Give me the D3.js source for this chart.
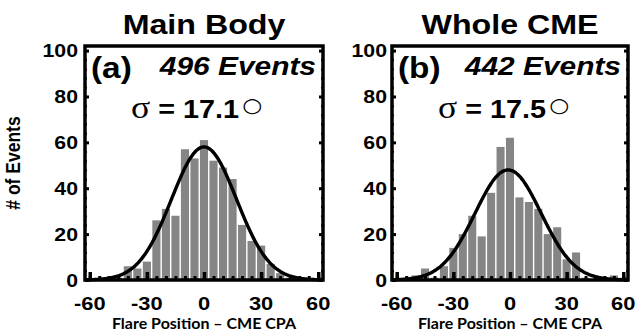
<!DOCTYPE html>
<html>
<head>
<meta charset="utf-8">
<script src="https://cdn.jsdelivr.net/npm/d3@7"></script>
<style>
  body { margin: 0; background: #fff; }
  svg { display: block; }
  .tick line { stroke: #000; }
  .domain { display: none; }
  .lbl { font-family: "Liberation Sans", Arial, sans-serif; font-weight: bold; fill: #000; }
</style>
</head>
<body>
<div id="chart"></div>
<script>

// histogram bins (degrees), 5 degree wide
var binCenters = [-60, -55, -50, -45, -40, -35, -30, -25, -20, -15, -10, -5, 0,
                  5, 10, 15, 20, 25, 30, 35, 40, 45, 50, 55, 60];

// counts
var mainBodyCounts = [0, 0, 0, 1, 6, 5, 8, 26, 31, 28, 57, 53, 61,
                      52, 49, 44, 24, 17, 15, 7, 3, 1, 0, 0, 0];
var wholeCmeCounts = [0, 0, 2, 5, 1, 6, 14, 20, 28, 19, 38, 58, 62,
                      36, 34, 31, 20, 23, 9, 12, 1, 0, 0, 2, 1];

var xTicks = [-60, -30, 0, 30, 60];
var xMinorTicks = binCenters;
var yTicks = [0, 20, 40, 60, 80, 100];
var yMinorTicks = d3.range(0, 101, 4);

var panelTitles = ["Main Body", "Whole CME"];
var panelLetters = ["(a)", "(b)"];
var eventLabels = ["496 Events", "442 Events"];
var sigmaLabels = ["17.1", "17.5"];

// gaussian fits
var fitPeaks = [58, 48];
var fitMeans = [0, -1];
var fitSigmas = [17.1, 17.5];

var svgWidth = 636, svgHeight = 334;
var stretch = 1.15;   // the original figure is a bit wide

var svg = d3.select("#chart")
  .append("svg")
  .attr("width", svgWidth)
  .attr("height", svgHeight);

// text helper, stretched sideways like the source picture
function label(x, y, txt, size, anchor) {
  return svg.append("text")
    .attr("class", "lbl")
    .attr("transform", `translate(${x}, ${y}) scale(${stretch}, 1)`)
    .attr("text-anchor", anchor || "start")
    .style("font-size", size + "px")
    .text(txt);
}

var panels = [
  { left: 85, right: 323, counts: mainBodyCounts, labelPad: 5 },
  { left: 392, right: 628, counts: wholeCmeCounts, labelPad: 3 }
];
var plotTop = 46, plotBottom = 280;

panels.forEach(function(p, k) {

  var x = d3.scaleLinear().domain([-62.5, 62.5]).range([p.left, p.right]);
  var y = d3.scaleLinear().domain([0, 102]).range([plotBottom, plotTop]);
  var cx = (p.left + p.right) / 2;

  var g = svg.append("g");

  // bars
  g.selectAll("rect.bar")
    .data(p.counts)
    .join("rect")
    .attr("class", "bar")
    .attr("x", (d, i) => x(binCenters[i] - 2.5) + 0.7)
    .attr("width", x(2.5) - x(-2.5) - 1.4)
    .attr("y", d => y(d))
    .attr("height", d => y(0) - y(d))
    .attr("fill", "#858585");

  // fitted curve
  var xs = d3.range(-62.5, 62.51, 0.5);
  var line = d3.line()
    .x(d => x(d))
    .y(d => y(fitPeaks[k] * Math.exp(-Math.pow(d - fitMeans[k], 2) / (2 * fitSigmas[k] * fitSigmas[k]))))
    .curve(d3.curveBasis);
  g.append("path")
    .datum(xs)
    .attr("d", line)
    .attr("fill", "none")
    .attr("stroke", "#000")
    .attr("stroke-width", 3.4);

  // ticks (inward, like the matlab box)
  g.append("g")
    .attr("transform", `translate(0, ${plotBottom})`)
    .call(d3.axisBottom(x).tickValues(xMinorTicks).tickSize(-4).tickFormat(""))
    .selectAll("line").attr("stroke-width", 3);

  g.append("g")
    .attr("transform", `translate(0, ${plotBottom})`)
    .call(d3.axisBottom(x).tickValues(xTicks).tickSize(-8).tickFormat(""))
    .selectAll("line").attr("stroke-width", 3.5);

  [p.left, p.right].forEach(function(xx, side) {
    var minor = side ? d3.axisRight(y) : d3.axisLeft(y);
    g.append("g")
      .attr("transform", `translate(${xx}, 0)`)
      .call(minor.tickValues(yMinorTicks).tickSize(-2).tickFormat(""))
      .selectAll("line").attr("stroke-width", 2);
    var major = side ? d3.axisRight(y) : d3.axisLeft(y);
    g.append("g")
      .attr("transform", `translate(${xx}, 0)`)
      .call(major.tickValues(yTicks).tickSize(-4).tickFormat(""))
      .selectAll("line").attr("stroke-width", 3);
  });

  // frame
  g.append("rect")
    .attr("x", p.left)
    .attr("y", plotTop)
    .attr("width", p.right - p.left)
    .attr("height", plotBottom - plotTop)
    .attr("fill", "none")
    .attr("stroke", "#000")
    .attr("stroke-width", 3.5);

  // tick labels
  yTicks.forEach(function(v) {
    label(p.left - p.labelPad - 2, y(v), v, 18.5, "end").attr("dy", "0.36em");
  });
  xTicks.forEach(function(v) {
    label(x(v), 303, v, 19, "middle").attr("dy", "0.36em");
  });

  // titles and labels
  label(cx, 34, panelTitles[k], 28, "middle");
  label(p.left + 6, 78, panelLetters[k], 29);
  label(p.right - 7, 75, eventLabels[k], 26, "end").style("font-style", "italic");

  var sig = svg.append("text")
    .attr("class", "lbl")
    .attr("transform", `translate(${p.left + 46}, 118) scale(${stretch}, 1)`);
  sig.append("tspan")
    .style("font-family", "'Liberation Serif', serif")
    .style("font-weight", "normal")
    .style("font-size", "31px")
    .text("σ");
  sig.append("tspan")
    .style("font-size", "25px")
    .text(" = " + sigmaLabels[k]);
  sig.append("tspan")
    .attr("dx", 3)
    .attr("dy", -6)
    .style("font-family", "'DejaVu Sans', sans-serif")
    .style("font-weight", "normal")
    .style("font-size", "20px")
    .text("○");

  svg.append("text")
    .attr("x", cx)
    .attr("y", 329)
    .attr("text-anchor", "middle")
    .style("font-family", "Lato, 'Open Sans', sans-serif")
    .style("font-weight", "bold")
    .style("font-size", "16px")
    .text("Flare Position \u2013 CME CPA");
});

svg.append("text")
  .attr("class", "lbl")
  .attr("transform", `translate(20, 163) scale(${stretch}, 1) rotate(-90)`)
  .attr("text-anchor", "middle")
  .style("font-size", "17.5px")
  .text("# of Events");

</script>
</body>
</html>
